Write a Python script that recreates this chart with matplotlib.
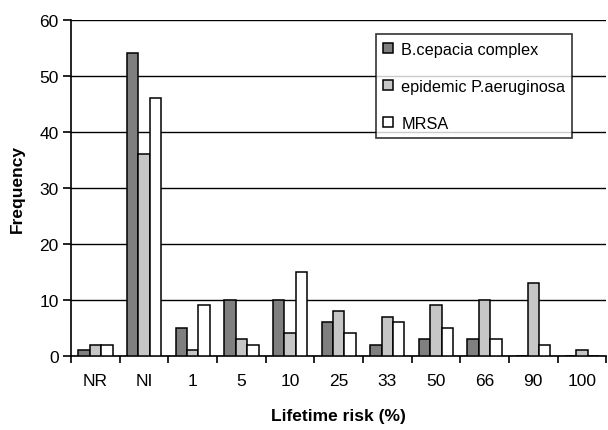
import numpy as np
import matplotlib
matplotlib.use("Agg")
import matplotlib.pyplot as plt

categories = ["NR", "NI", "1", "5", "10", "25", "33", "50", "66", "90", "100"]
bcepacia = [1, 54, 5, 10, 10, 6, 2, 3, 3, 0, 0]
paeruginosa = [2, 36, 1, 3, 4, 8, 7, 9, 10, 13, 1]
mrsa = [2, 46, 9, 2, 15, 4, 6, 5, 3, 2, 0]
series_names = ["B.cepacia complex", "epidemic P.aeruginosa", "MRSA"]

plt.rcParams['font.family'] = ['Liberation Sans', 'DejaVu Sans']

fig = plt.figure(figsize=(6.08, 4.31), dpi=100)
ax = fig.add_axes([0.117, 0.172, 0.880, 0.780])

x = np.arange(len(categories))
w = 0.235
colors = ["#7f7f7f", "#c6c6c6", "#ffffff"]
for i, (vals, name) in enumerate(zip([bcepacia, paeruginosa, mrsa], series_names)):
    ax.bar(x + (i - 1) * w, vals, width=w, color=colors[i], edgecolor="black",
           linewidth=1.1, label=name, zorder=3)

ax.set_xlim(-0.5, len(categories) - 0.5)
ax.set_ylim(0, 60)
ax.set_yticks(range(0, 61, 10))
# tick marks sit between the groups, labels centred under them
ax.set_xticks(np.arange(-0.5, len(categories), 1.0))
ax.set_xticklabels([])
ax.set_xticks(x, minor=True)
ax.set_xticklabels(categories, minor=True)
ax.tick_params(axis='x', which='minor', length=0, pad=12, labelsize=12.5)
ax.tick_params(axis='x', which='major', direction='out', length=5, width=1.2)
ax.tick_params(axis='y', direction='out', length=6, width=1.2, labelsize=12.5, pad=3)

ax.grid(axis='y', color='black', linewidth=1.0, zorder=0)
ax.set_axisbelow(True)
for s in ['top', 'right']:
    ax.spines[s].set_visible(False)
for s in ['left', 'bottom']:
    ax.spines[s].set_linewidth(1.2)

ax.set_xlabel("Lifetime risk (%)", fontsize=12.5, fontweight='bold', labelpad=15)
ax.set_ylabel("Frequency", fontsize=12.5, fontweight='bold', labelpad=10)

leg = ax.legend(loc='upper right', bbox_to_anchor=(0.937, 0.956), fontsize=11.7,
                frameon=True, fancybox=False, edgecolor='black', handlelength=0.6,
                handleheight=0.6, handletextpad=0.5, labelspacing=1.35,
                borderpad=0.45, borderaxespad=0)
leg.get_frame().set_linewidth(1.2)

fig.savefig("out.png", dpi=100)
